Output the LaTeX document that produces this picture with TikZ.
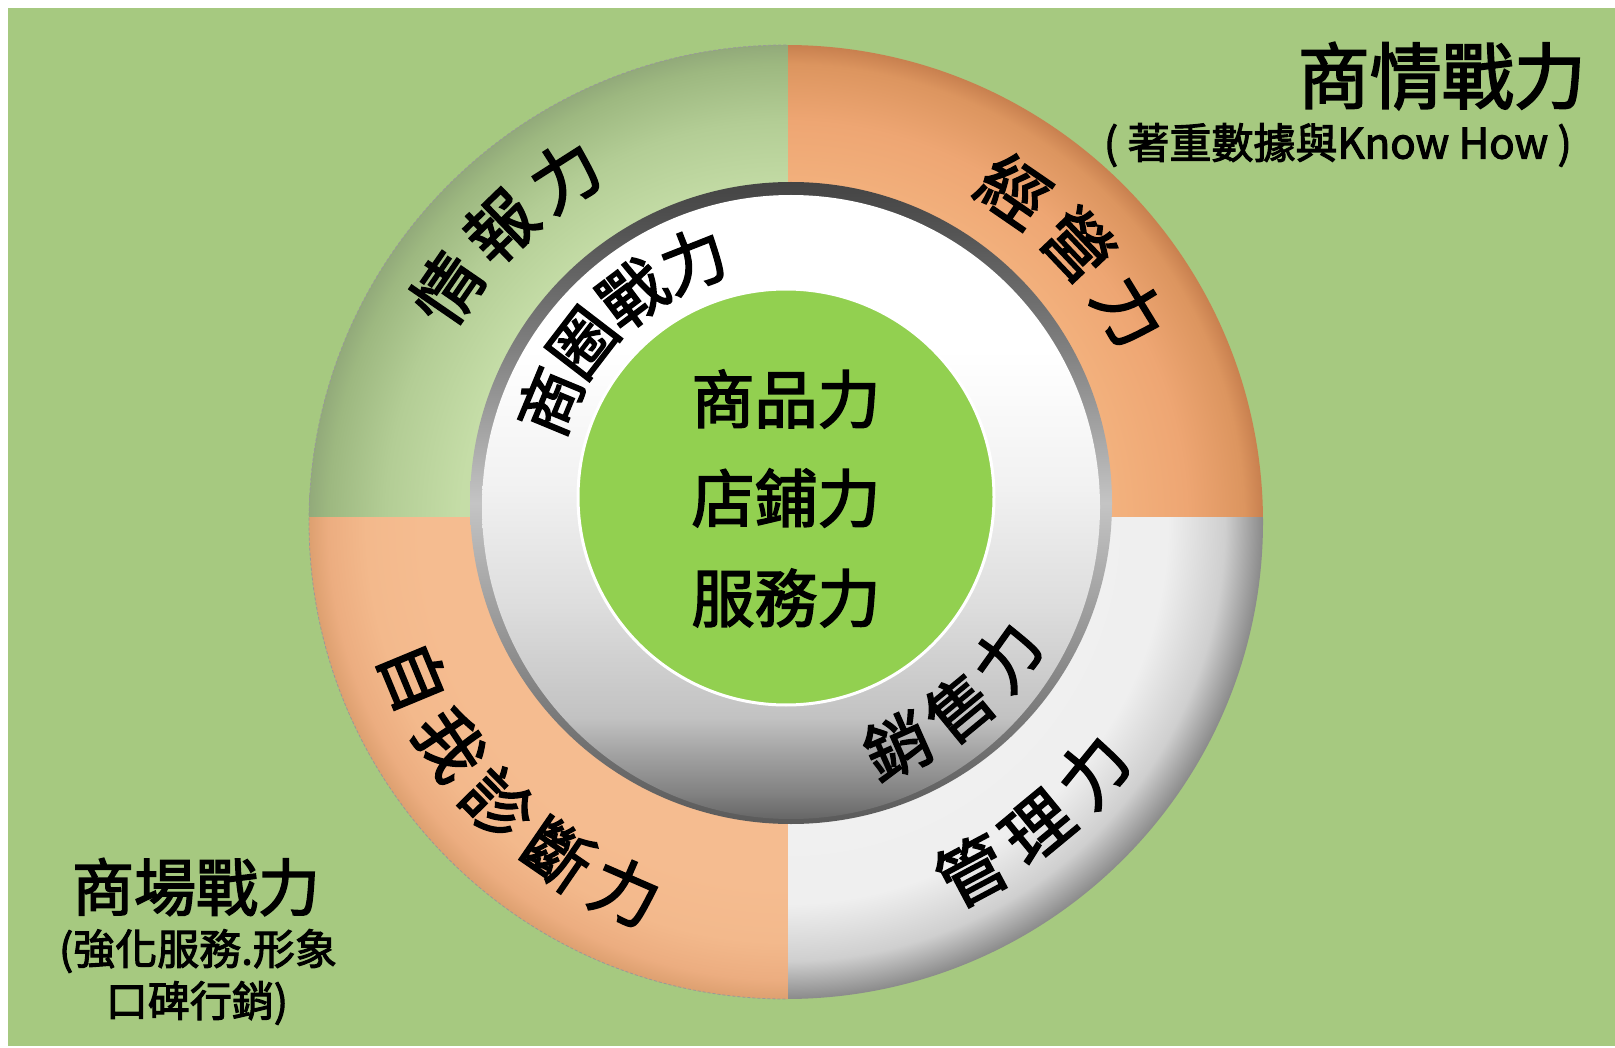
\documentclass[tikz,border=0pt]{standalone}
\usepackage{fontspec}
\setmainfont{Noto Sans CJK TC}
\newfontfamily\medfont{Noto Sans CJK TC}[FakeBold=2.5]
\usetikzlibrary{calc}

\definecolor{bg}{HTML}{A6C980}
\definecolor{cgreen}{HTML}{92D050}
% top-left quadrant
\definecolor{tlin}{HTML}{C5DDA7}
\definecolor{tlmid}{HTML}{B3CD95}
\definecolor{tlout}{HTML}{9DB880}
\definecolor{tledge}{HTML}{92AA7A}
% top-right quadrant
\definecolor{trin}{HTML}{F3B27E}
\definecolor{trmid}{HTML}{EEA673}
\definecolor{trout}{HTML}{DC955F}
\definecolor{tredge}{HTML}{C8804F}
% bottom-left quadrant
\definecolor{blin}{HTML}{F5BC90}
\definecolor{blmid}{HTML}{F3B98C}
\definecolor{blout}{HTML}{ECAD80}
\definecolor{bledge}{HTML}{DDA070}
% bottom-right quadrant
\definecolor{brin}{HTML}{F3F3F3}
\definecolor{brmid}{HTML}{EFEFEF}
\definecolor{brout}{HTML}{CFCFCF}
\definecolor{bredge}{HTML}{8A8A8A}
% inner ring body
\definecolor{ra}{HTML}{666666}
\definecolor{rb}{HTML}{828282}
\definecolor{rc}{HTML}{A3A3A3}
\definecolor{rd}{HTML}{C2C2C2}
\definecolor{re}{HTML}{DEDEDE}
\definecolor{rf}{HTML}{F2F2F2}
% inner ring rim
\definecolor{ma}{HTML}{505050}
\definecolor{mb}{HTML}{808080}
\definecolor{mc}{HTML}{C4C4C4}
\definecolor{md}{HTML}{5A5A5A}
\definecolor{me}{HTML}{444444}

\pgfdeclareradialshading{tlshade}{\pgfpoint{0bp}{0bp}}{color(0bp)=(tlin); color(17bp)=(tlin); color(21bp)=(tlmid); color(24bp)=(tlout); color(25bp)=(tledge); color(50bp)=(tledge)}
\pgfdeclareradialshading{trshade}{\pgfpoint{0bp}{0bp}}{color(0bp)=(trin); color(17bp)=(trin); color(21bp)=(trmid); color(24bp)=(trout); color(25bp)=(tredge); color(50bp)=(tredge)}
\pgfdeclareradialshading{blshade}{\pgfpoint{0bp}{0bp}}{color(0bp)=(blin); color(19bp)=(blin); color(22bp)=(blmid); color(24bp)=(blout); color(25bp)=(bledge); color(50bp)=(bledge)}
\pgfdeclareradialshading{brshade}{\pgfpoint{0bp}{0bp}}{color(0bp)=(brin); color(20bp)=(brmid); color(23bp)=(brout); color(25bp)=(bredge); color(50bp)=(bredge)}
\pgfdeclareverticalshading{ringshade}{100bp}{color(0bp)=(ra); color(25bp)=(ra); color(27.1bp)=(rb); color(30.3bp)=(rc); color(33.1bp)=(rd); color(42.4bp)=(re); color(52bp)=(rf); color(62.6bp)=(white); color(100bp)=(white)}
\pgfdeclareverticalshading{rimshade}{100bp}{color(0bp)=(md); color(25bp)=(md); color(35bp)=(mb); color(50bp)=(mc); color(62bp)=(mb); color(72bp)=(ma); color(75bp)=(me); color(100bp)=(me)}

\tikzset{
  ringchar/.style={font=\medfont\fontsize{68}{68}\selectfont, inner sep=0pt, text=black},
  innerchar/.style={font=\medfont\fontsize{65}{65}\selectfont, inner sep=0pt, text=black},
  ctext/.style={font=\medfont\fontsize{63}{63}\selectfont, inner sep=0pt, text=black},
  bigtitle/.style={font=\medfont\fontsize{72}{72}\selectfont, inner sep=0pt, text=black},
  subtitle/.style={font=\medfont\fontsize{42}{42}\selectfont, inner sep=0pt, text=black},
  bltitle/.style={font=\medfont\fontsize{62}{62}\selectfont, inner sep=0pt, text=black},
  blsub/.style={font=\medfont\fontsize{42}{42}\selectfont, inner sep=0pt, text=black},
}

\begin{document}
\begin{tikzpicture}[x=1pt,y=-1pt]
\useasboundingbox (0,0) rectangle (1615,1048);
\fill[white] (0,0) rectangle (1615,1048);
\fill[bg] (8,8) rectangle (1615,1046);

\coordinate (C) at (786,522);
\coordinate (G) at (788,500);

% outer ring quadrants
\begin{scope}
  \clip (0,0) rectangle (788,517);
  \shade[shading=tlshade] (C) circle (477);
\end{scope}
\begin{scope}
  \clip (788,0) rectangle (1615,517);
  \shade[shading=trshade] (C) circle (477);
\end{scope}
\begin{scope}
  \clip (0,517) rectangle (788,1048);
  \shade[shading=blshade] (C) circle (477);
\end{scope}
\begin{scope}
  \clip (788,517) rectangle (1615,1048);
  \shade[shading=brshade] (C) circle (477);
\end{scope}
\draw[gray!80, line width=0.8pt, dash pattern=on 3pt off 2pt] (786,45) arc[start angle=-90, end angle=-270, radius=477];

% inner ring
\shade[shading=rimshade] (791,503) circle (321);
\begin{scope}
  \clip (791,503) circle (321);
  \shade[shading=ringshade] (791,507) ellipse [x radius=309, y radius=312];
\end{scope}

% centre disc
\fill[cgreen, draw=white, line width=3pt] (786,497) circle (208);

\node[ctext] (p1) at (786,399) {商品力};
\node[ctext] (p2) at (786,498) {店鋪力};
\node[ctext] (p3) at (786,598) {服務力};

% outer ring texts
\foreach \ch/\t [count=\i] in {情/145.5,報/134,力/122.5}
  \node[ringchar, rotate=\t-90] (qa\i) at ($(C)+(-\t:411)$) {\ch};
\foreach \ch/\t [count=\i] in {經/55.5,營/43.5,力/31.5}
  \node[ringchar, rotate=\t-90] (qb\i) at ($(C)+(-\t:403)$) {\ch};
\foreach \ch/\t [count=\i] in {自/202.5,我/213.5,診/224.5,斷/235.5,力/246.5}
  \node[ringchar, rotate=\t+90] (qc\i) at ($(C)+(-\t:403)$) {\ch};
\foreach \ch/\t [count=\i] in {管/298,理/309.5,力/321}
  \node[ringchar, rotate=\t+90] (qd\i) at ($(C)+(-\t:395)$) {\ch};

% inner ring texts
\foreach \ch/\t [count=\i] in {商/157.5,圈/142.5,戰/127,力/111.5}
  \node[innerchar, rotate=\t-90] (ia\i) at ($(G)+(-\t:258)$) {\ch};
\foreach \ch/\t [count=\i] in {銷/294,售/309.5,力/324.5}
  \node[innerchar, rotate=\t+90] (ib\i) at ($(G)+(-\t:269)$) {\ch};

% corner texts
\node[bigtitle, anchor=east] (t1) at (1586,76) {商情戰力};
\node[subtitle, anchor=east] (t2) at (1572,145) {( 著重數據與Know How )};

\node[bltitle] (b1) at (196,887) {商場戰力};
\node[blsub] (b2) at (198,951) {(強化服務.形象};
\node[blsub] (b3) at (197,1003) {口碑行銷)};
\end{tikzpicture}
\end{document}
